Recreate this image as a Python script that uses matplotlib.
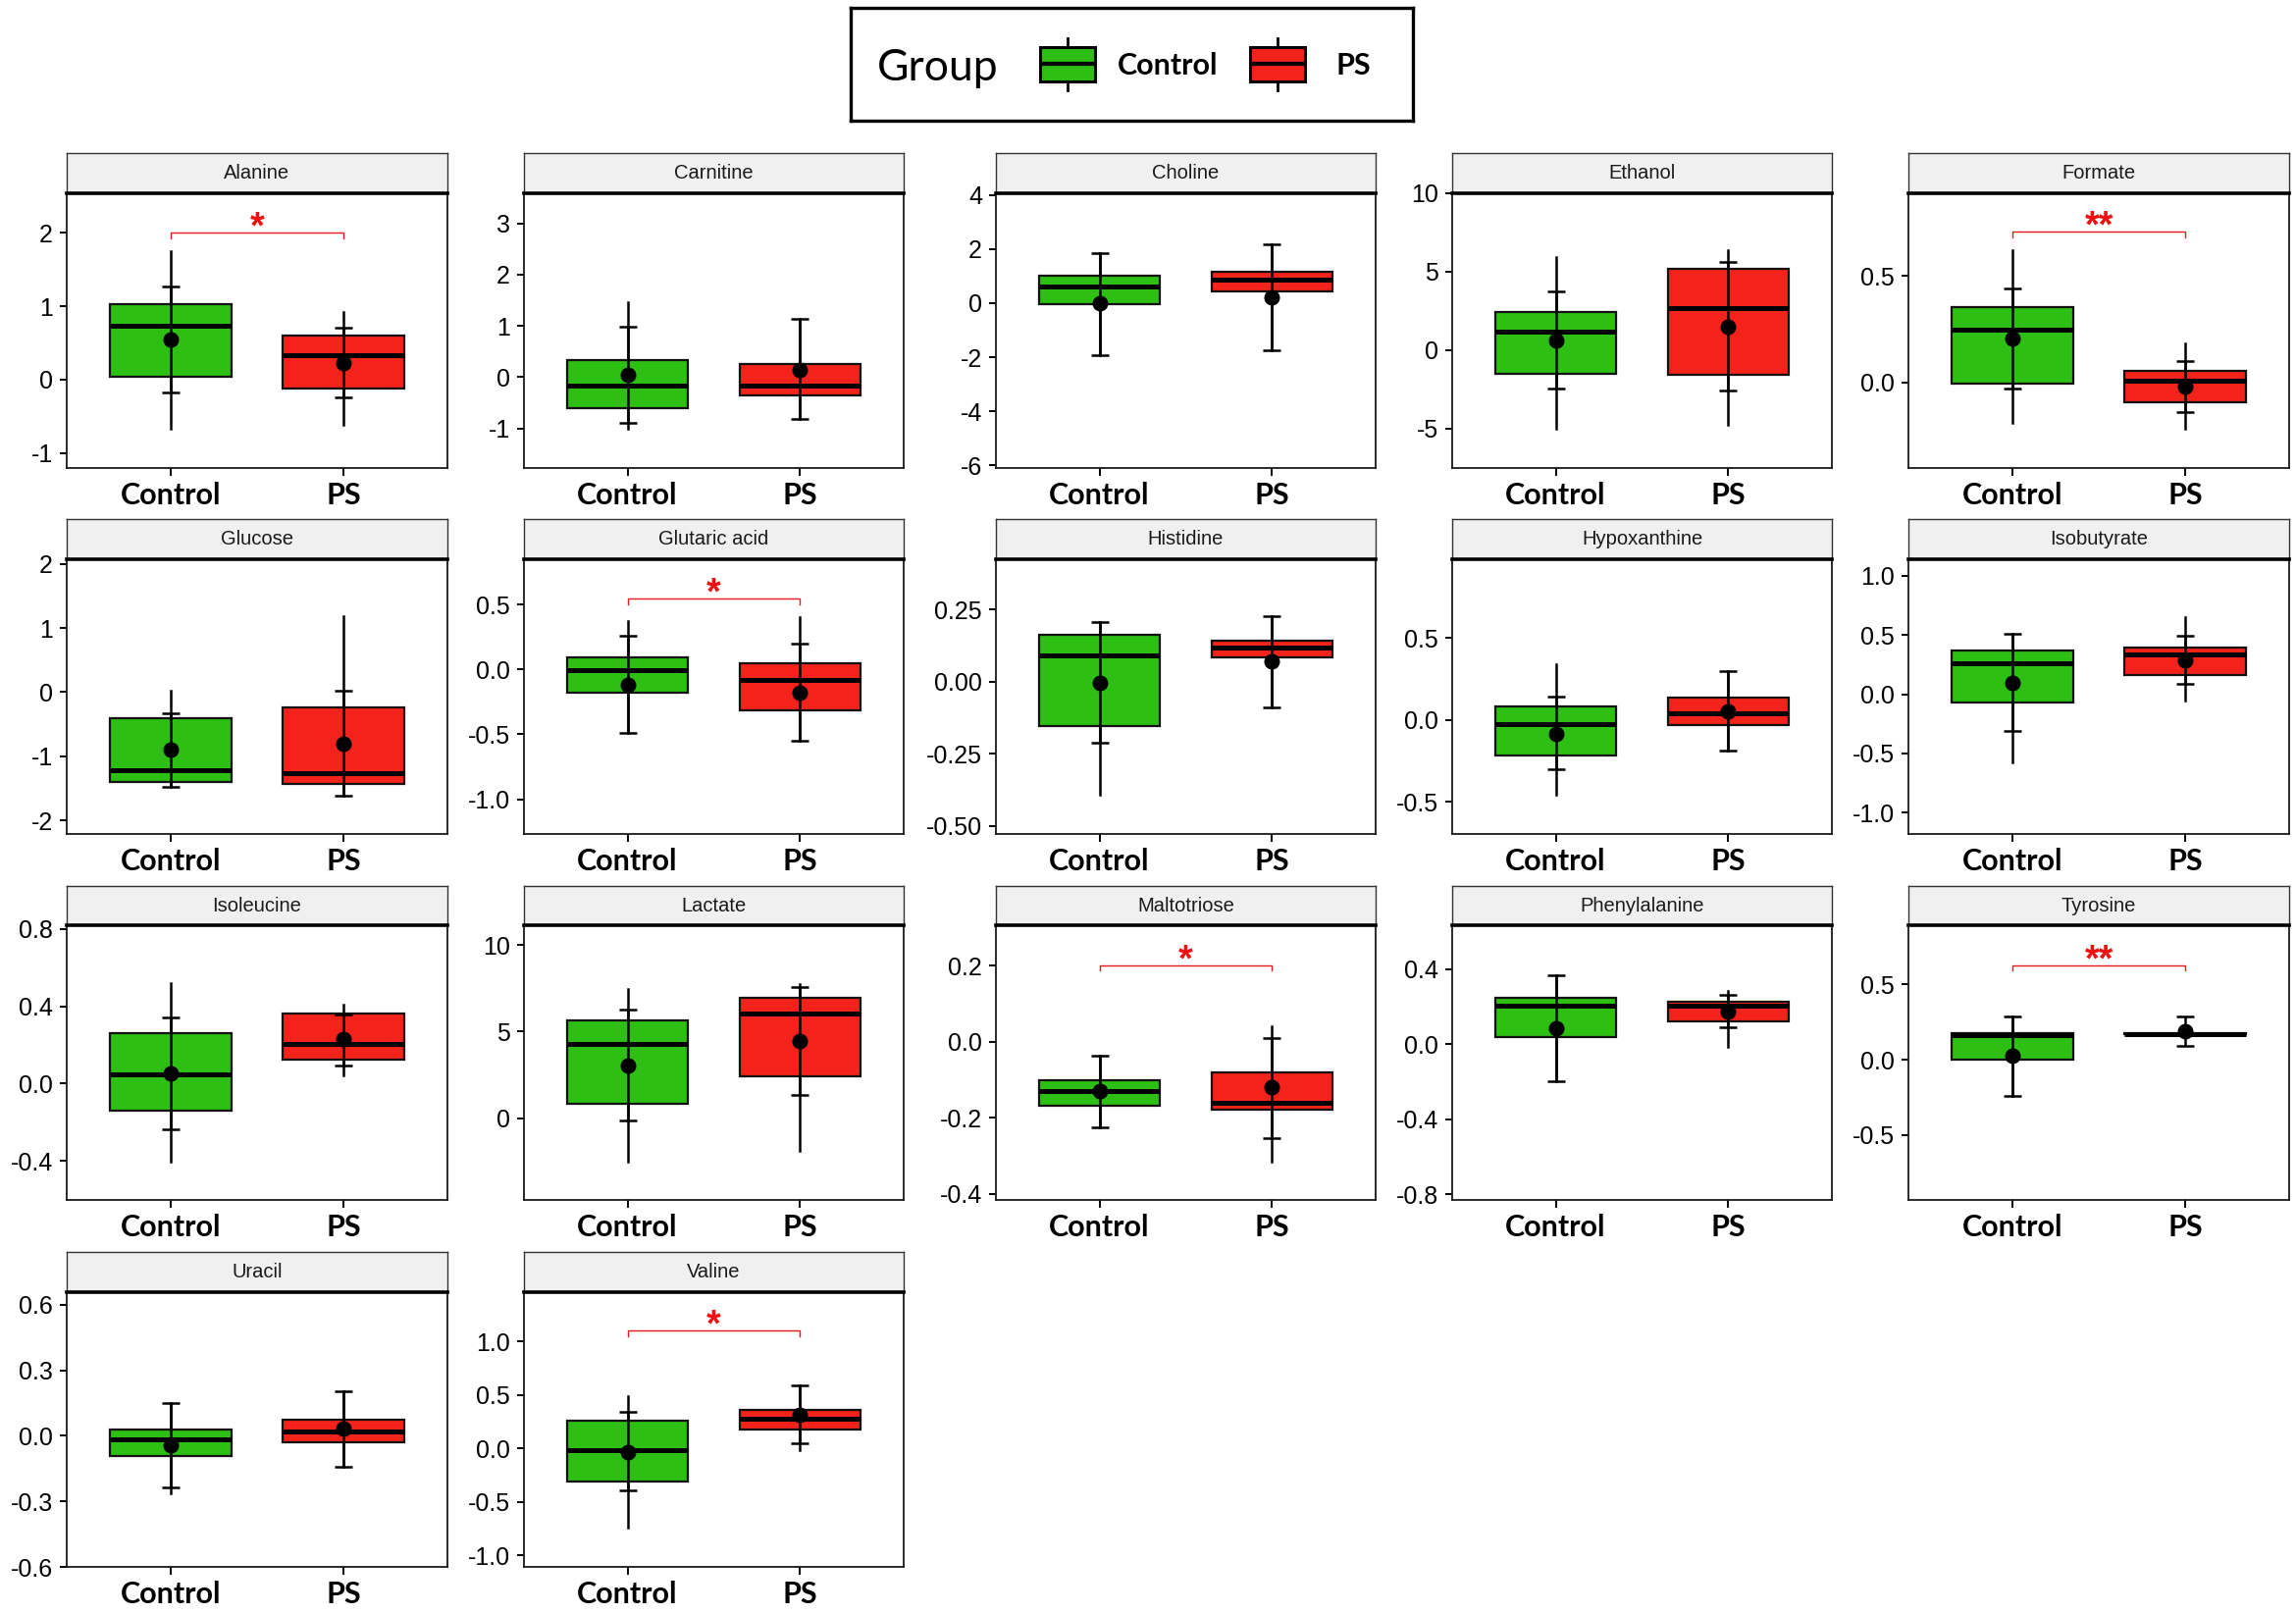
import matplotlib.pyplot as plt
from matplotlib.patches import Rectangle

# =========================================================
# Data (each pair is (Control, PS))
# =========================================================

groups = ["Control", "PS"]
group_colors = ["#2EBF14", "#F3231B"]

metabolites = [
    "Alanine", "Carnitine", "Choline", "Ethanol", "Formate",
    "Glucose", "Glutaric acid", "Histidine", "Hypoxanthine", "Isobutyrate",
    "Isoleucine", "Lactate", "Maltotriose", "Phenylalanine", "Tyrosine",
    "Uracil", "Valine",
]

whisker_low = [
    (-0.67, -0.61), (-1.00, -0.82), (-1.92, -1.73), (-5.03, -4.78), (-0.19, -0.22),
    (-1.48, -1.615), (-0.49, -0.55), (-0.392, -0.09), (-0.457, -0.19), (-0.575, -0.055),
    (-0.406, 0.042), (-2.54, -1.89), (-0.225, -0.314), (-0.197, -0.016), (-0.24, 0.170),
    (-0.261, -0.141), (-0.738, -0.012),
]
q1 = [
    (0.045, -0.12), (-0.61, -0.35), (-0.04, 0.42), (-1.48, -1.57), (-0.006, -0.094),
    (-1.40, -1.43), (-0.18, -0.313), (-0.153, 0.083), (-0.216, -0.034), (-0.066, 0.166),
    (-0.143, 0.124), (0.83, 2.39), (-0.169, -0.178), (0.037, 0.12), (0.0, 0.170),
    (-0.093, -0.03), (-0.306, 0.175),
]
median = [
    (0.74, 0.335), (-0.17, -0.17), (0.60, 0.85), (1.19, 2.69), (0.25, 0.006),
    (-1.22, -1.26), (-0.005, -0.083), (0.089, 0.118), (-0.028, 0.038), (0.265, 0.334),
    (0.049, 0.207), (4.26, 6.02), (-0.128, -0.159), (0.206, 0.206), (0.163, 0.172),
    (-0.016, 0.021), (-0.015, 0.279),
]
q3 = [
    (1.03, 0.60), (0.34, 0.26), (1.02, 1.15), (2.46, 5.18), (0.356, 0.056),
    (-0.41, -0.245), (0.096, 0.048), (0.163, 0.14), (0.082, 0.134), (0.367, 0.395),
    (0.263, 0.365), (5.63, 6.95), (-0.10, -0.079), (0.248, 0.224), (0.176, 0.175),
    (0.027, 0.073), (0.26, 0.364),
]
whisker_high = [
    (1.75, 0.92), (1.46, 1.13), (1.84, 2.19), (5.93, 6.35), (0.623, 0.182),
    (0.02, 1.19), (0.376, 0.403), (0.205, 0.226), (0.337, 0.295), (0.508, 0.652),
    (0.52, 0.409), (7.48, 7.73), (-0.036, 0.042), (0.369, 0.285), (0.285, 0.175),
    (0.151, 0.204), (0.49, 0.585),
]
mean = [
    (0.545, 0.23), (0.04, 0.14), (-0.01, 0.21), (0.65, 1.52), (0.207, -0.02),
    (-0.90, -0.80), (-0.116, -0.18), (-0.003, 0.069), (-0.084, 0.052), (0.10, 0.285),
    (0.051, 0.229), (3.05, 4.45), (-0.13, -0.12), (0.086, 0.173), (0.026, 0.19),
    (-0.045, 0.034), (-0.03, 0.319),
]
sd_low = [
    (-0.18, -0.245), (-0.895, -0.82), (-1.92, -1.73), (-2.46, -2.55), (-0.028, -0.14),
    (-1.48, -1.615), (-0.49, -0.55), (-0.212, -0.09), (-0.303, -0.19), (-0.307, 0.091),
    (-0.236, 0.095), (-0.13, 1.31), (-0.225, -0.252), (-0.197, 0.091), (-0.24, 0.092),
    (-0.235, -0.141), (-0.392, 0.049),
]
sd_high = [
    (1.27, 0.71), (0.98, 1.13), (1.84, 2.19), (3.76, 5.64), (0.444, 0.102),
    (-0.33, 0.02), (0.262, 0.197), (0.205, 0.226), (0.14, 0.295), (0.508, 0.492),
    (0.34, 0.357), (6.25, 7.59), (-0.036, 0.011), (0.369, 0.262), (0.285, 0.285),
    (0.151, 0.204), (0.34, 0.585),
]

y_limits = [
    (-1.205, 2.54), (-1.77, 3.585), (-6.1, 4.06), (-7.5, 10.0), (-0.403, 0.89),
    (-2.21, 2.07), (-1.268, 0.85), (-0.528, 0.4236), (-0.697, 0.98), (-1.18, 1.14),
    (-0.603, 0.82), (-4.73, 11.14), (-0.4155, 0.307), (-0.83, 0.634), (-0.932, 0.893),
    (-0.598, 0.658), (-1.106, 1.46),
]
y_ticks = [
    ["-1", "0", "1", "2"], ["-1", "0", "1", "2", "3"], ["-6", "-4", "-2", "0", "2", "4"],
    ["-5", "0", "5", "10"], ["0.0", "0.5"],
    ["-2", "-1", "0", "1", "2"], ["-1.0", "-0.5", "0.0", "0.5"],
    ["-0.50", "-0.25", "0.00", "0.25"], ["-0.5", "0.0", "0.5"],
    ["-1.0", "-0.5", "0.0", "0.5", "1.0"],
    ["-0.4", "0.0", "0.4", "0.8"], ["0", "5", "10"], ["-0.4", "-0.2", "0.0", "0.2"],
    ["-0.8", "-0.4", "0.0", "0.4"], ["-0.5", "0.0", "0.5"],
    ["-0.6", "-0.3", "0.0", "0.3", "0.6"], ["-1.0", "-0.5", "0.0", "0.5", "1.0"],
]

# metabolite: (label, bracket height, bracket end)
significance = {
    "Alanine": ("*", 2.01, 1.93),
    "Formate": ("**", 0.708, 0.68),
    "Glutaric acid": ("*", 0.547, 0.50),
    "Maltotriose": ("*", 0.202, 0.188),
    "Tyrosine": ("**", 0.627, 0.593),
    "Valine": ("*", 1.10, 1.045),
}

# =========================================================
# Layout (pixels of the 2340x1644 output)
# =========================================================

W, H = 2340, 1644
col_x = [(68, 456), (534, 921), (1015, 1402), (1480, 1867), (1945, 2333)]
row_y = [(156, 197, 477), (529, 570, 850), (903, 943, 1223), (1276, 1317, 1597)]


def frac(x0, y0, x1, y1):
    return [x0 / W, 1 - y1 / H, (x1 - x0) / W, (y1 - y0) / H]


tick_font = "Liberation Sans"
label_font = "Lato"

fig = plt.figure(figsize=(W / 100, H / 100), dpi=100)

for i, name in enumerate(metabolites):
    r, c = divmod(i, 5)
    x0, x1 = col_x[c]
    st, sl, sb = row_y[r]

    # strip
    sax = fig.add_axes(frac(x0, st, x1, sl))
    sax.set_facecolor("#F0F0F0")
    sax.set_xticks([])
    sax.set_yticks([])
    for sp in sax.spines.values():
        sp.set_linewidth(1.0)
        sp.set_color("#333333")
    sax.text(0.5, 0.5, name, ha="center", va="center", fontsize=14.5,
             family=tick_font, color="#1a1a1a", transform=sax.transAxes)

    # panel
    ax = fig.add_axes(frac(x0, sl, x1, sb))
    stats = []
    for g in range(2):
        stats.append(dict(whislo=whisker_low[i][g], q1=q1[i][g], med=median[i][g],
                          q3=q3[i][g], whishi=whisker_high[i][g], fliers=[]))
    bp = ax.bxp(stats, positions=[1, 2], widths=0.7, patch_artist=True,
                showcaps=False, showfliers=False,
                boxprops=dict(linewidth=1.6, edgecolor="#111111"),
                medianprops=dict(color="black", linewidth=3.6, solid_capstyle="butt"),
                whiskerprops=dict(color="black", linewidth=1.8))
    for patch, col in zip(bp["boxes"], group_colors):
        patch.set_facecolor(col)

    for g in range(2):
        m = mean[i][g]
        ax.errorbar([g + 1], [m], yerr=[[m - sd_low[i][g]], [sd_high[i][g] - m]],
                    fmt="none", ecolor="black", elinewidth=1.8, capsize=6.7,
                    capthick=1.8, zorder=4)
    ax.plot([1, 2], mean[i], "o", color="black", ms=10.5, zorder=5)

    if name in significance:
        label, yb, ye = significance[name]
        ax.plot([1, 1, 2, 2], [ye, yb, yb, ye], color="#E8191B", lw=1.0, zorder=3)
        ax.annotate(label, xy=(1.5, yb), xytext=(0, -4), textcoords="offset points",
                    ha="center", va="baseline", color="#EE1111", fontsize=27,
                    fontweight="bold", family=tick_font)

    ax.set_xlim(0.4, 2.6)
    ax.set_ylim(*y_limits[i])
    ax.set_yticks([float(t) for t in y_ticks[i]])
    ax.set_yticklabels(y_ticks[i], family=tick_font, fontsize=18)
    ax.set_xticks([1, 2])
    ax.set_xticklabels(groups, family=label_font, fontweight="bold", fontsize=22)
    ax.tick_params(axis="y", length=5, width=1.4, pad=5, colors="black")
    ax.tick_params(axis="x", length=6, width=1.4, pad=4, colors="black")
    for side in ["left", "right", "bottom"]:
        ax.spines[side].set_linewidth(1.3)
        ax.spines[side].set_color("#1a1a1a")
    ax.spines["top"].set_linewidth(2.6)
    ax.spines["top"].set_color("black")

# =========================================================
# Legend
# =========================================================

lax = fig.add_axes(frac(867, 8, 1440, 123))
lax.set_xlim(867, 1440)
lax.set_ylim(123, 8)
lax.set_xticks([])
lax.set_yticks([])
for sp in lax.spines.values():
    sp.set_linewidth(2.4)
    sp.set_color("black")

lax.text(894, 69, "Group", family=label_font, fontsize=32, ha="left", va="center")
key_x = [1060, 1274]
text_x = [1139, 1361]
for kx, tx, col, grp in zip(key_x, text_x, group_colors, groups):
    lax.add_patch(Rectangle((kx, 48), 56, 35, facecolor=col, edgecolor="black", lw=2.2))
    lax.plot([kx, kx + 56], [65.5, 65.5], color="black", lw=3.0, solid_capstyle="butt")
    lax.plot([kx + 28, kx + 28], [39, 48], color="black", lw=2.0)
    lax.plot([kx + 28, kx + 28], [83, 92], color="black", lw=2.0)
    lax.text(tx, 67.5, grp, family=label_font, fontweight="bold", fontsize=22,
             ha="left", va="center")

fig.savefig("out.png", dpi=100, facecolor="white")
print("Figure saved")
